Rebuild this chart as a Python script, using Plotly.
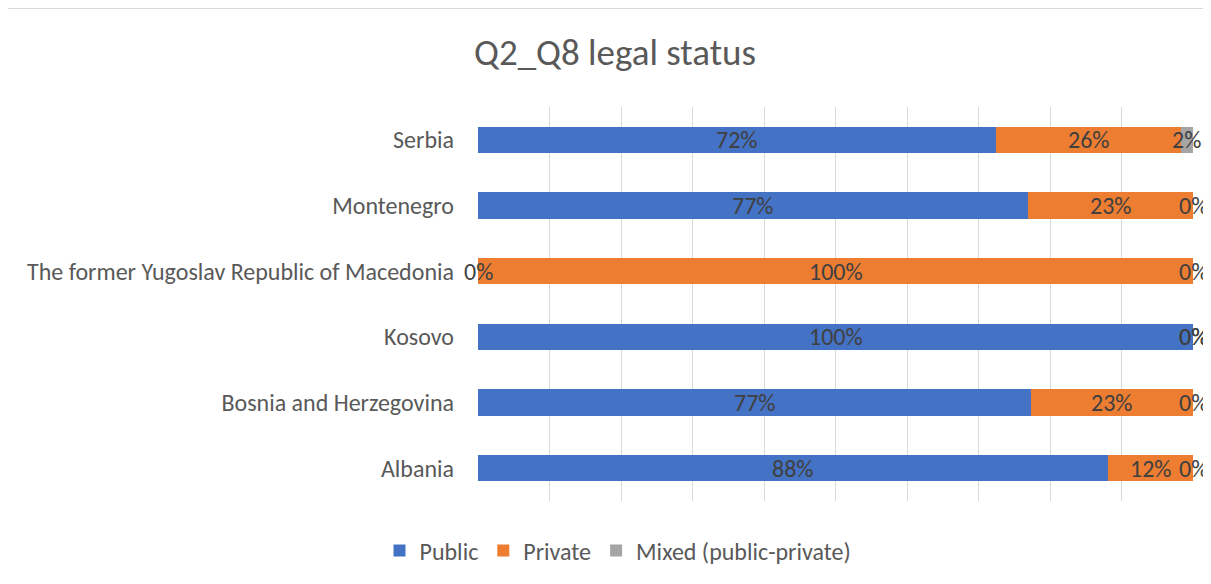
import plotly.graph_objects as go

categories = ["Albania", "Bosnia and Herzegovina", "Kosovo",
              "The former Yugoslav Republic of Macedonia", "Montenegro", "Serbia"]
public = [88.1, 77.3, 100.0, 0.0, 76.9, 72.4]
private = [11.9, 22.7, 0.0, 100.0, 23.1, 25.9]
mixed = [0.0, 0.0, 0.0, 0.0, 0.0, 1.7]
series_names = ["Public", "Private", "Mixed (public-private)"]
series_values = [public, private, mixed]
colors = ["#4472C4", "#ED7D31", "#A5A5A5"]

FONT = "Calibri, Carlito, 'Noto Sans', sans-serif"

fig = go.Figure()
for name, vals, col in zip(series_names, series_values, colors):
    fig.add_trace(go.Bar(
        y=categories, x=vals, name=name, orientation="h",
        marker=dict(color=col, line=dict(width=0)),
        hoverinfo="x+y+name",
    ))

annotations = []
for i, cat in enumerate(categories):
    cum = 0.0
    for vals in series_values:
        v = vals[i]
        annotations.append(dict(
            x=cum + v / 2, y=cat, xref="x", yref="y",
            text=f"{round(v)}%", showarrow=False,
            font=dict(family=FONT, size=24, color="#404040"),
            xanchor="center", yanchor="middle",
        ))
        cum += v

# page body has an 8px margin, so figure coordinates are offset by 8px
W, H = 1203, 560
L, R, T, B = 470, 18, 99, 67
pw, ph = W - L - R, H - T - B

def px_x(p):
    return (p - L) / pw

def px_y(p):
    return (H - B - p) / ph

fig.update_layout(
    width=W, height=H,
    margin=dict(l=L, r=R, t=T, b=B, pad=0),
    barmode="stack", bargap=0.6,
    paper_bgcolor="white", plot_bgcolor="white",
    font=dict(family=FONT, size=24, color="#595959"),
    title=dict(text="Q2_Q8 legal status", x=607 / W, xref="container",
               xanchor="center", y=1 - 44 / H, yanchor="middle",
               font=dict(family=FONT, size=37, color="#595959")),
    xaxis=dict(range=[0, 100], dtick=10, showticklabels=False,
               showgrid=True, gridcolor="#D9D9D9", gridwidth=1,
               zeroline=False, showline=False, fixedrange=True),
    yaxis=dict(categoryorder="array", categoryarray=categories,
               showgrid=False, zeroline=False, showline=False,
               ticks="", ticklabelstandoff=23,
               tickfont=dict(family=FONT, size=24, color="#595959")),
    legend=dict(orientation="h", x=610 / W, xref="container", xanchor="center",
                y=1 - 543 / H, yref="container", yanchor="middle",
                font=dict(family=FONT, size=24, color="#595959"),
                traceorder="normal", itemwidth=30),
    annotations=annotations,
    shapes=[dict(type="rect", xref="paper", yref="paper",
                 x0=px_x(-10), x1=px_x(1215), y0=px_y(590), y1=px_y(0.5),
                 line=dict(color="#D9D9D9", width=1), fillcolor="rgba(0,0,0,0)",
                 layer="below")],
)

fig.write_html("out.html")
